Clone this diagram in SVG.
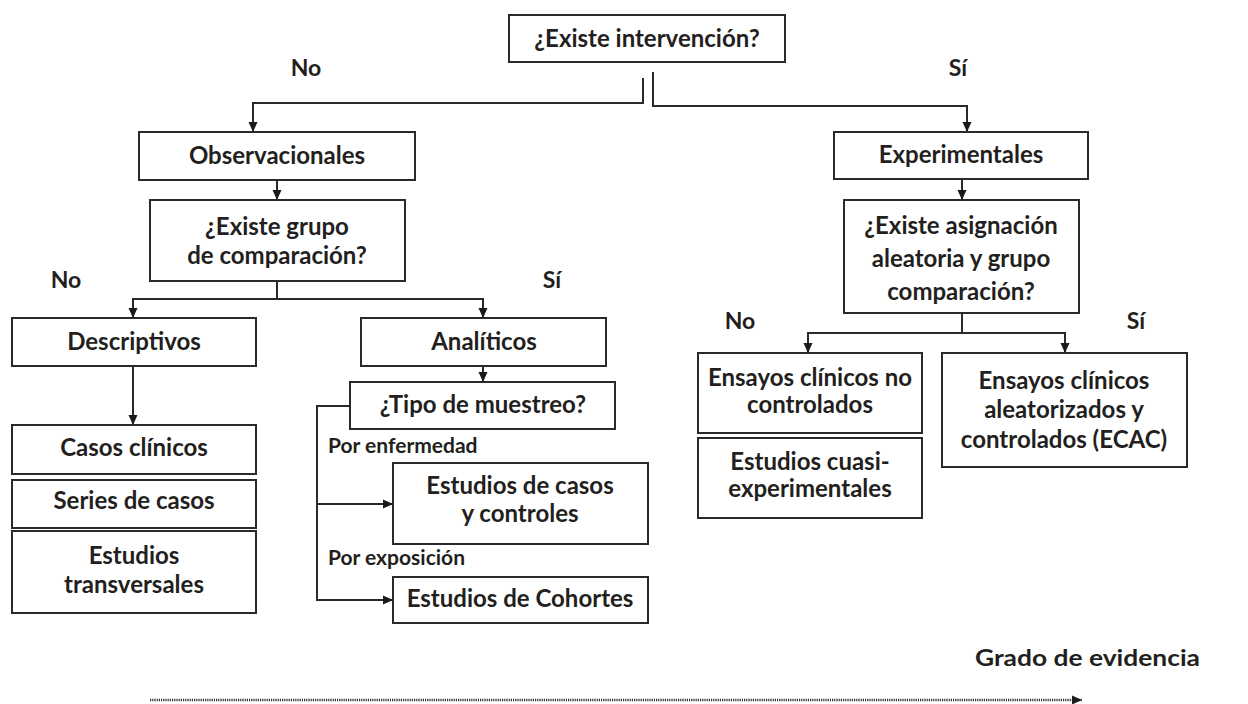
<svg xmlns="http://www.w3.org/2000/svg" width="1248" height="704" viewBox="0 0 1248 704">
<defs>
<style>
.box{fill:#fff;stroke:#2a2a2a;stroke-width:2}
.t{font-family:Lato,"Open Sans","Liberation Sans",sans-serif;font-weight:bold;font-size:24px;fill:#231f20;text-anchor:middle}
.lbl{font-family:Lato,"Open Sans","Liberation Sans",sans-serif;font-weight:bold;font-size:23px;fill:#231f20;text-anchor:middle}
.small{font-family:Lato,"Open Sans","Liberation Sans",sans-serif;font-weight:bold;font-size:21px;fill:#231f20}
.c{fill:none;stroke:#2a2a2a;stroke-width:2}
.dot{fill:none;stroke:#333;stroke-width:2.5;stroke-dasharray:1.2 1}
</style>
<marker id="ah" markerUnits="userSpaceOnUse" markerWidth="10" markerHeight="10" refX="10" refY="5" orient="auto">
<path d="M0,0.5 L10,5 L0,9.5 z" fill="#1a1a1a"/>
</marker>
</defs>
<rect width="1248" height="704" fill="#fff"/>

<g id="connectors">
<path class="c" d="M643,78 V103 H253 V132" marker-end="url(#ah)"/>
<path class="c" d="M653,72 V106 H967 V132" marker-end="url(#ah)"/>
<path class="c" d="M277,180 V200" marker-end="url(#ah)"/>
<path class="c" d="M277,281 V299 H133 V318" marker-end="url(#ah)"/>
<path class="c" d="M277,299 H483 V318" marker-end="url(#ah)"/>
<path class="c" d="M133,366 V425" marker-end="url(#ah)"/>
<path class="c" d="M483,366 V382" marker-end="url(#ah)"/>
<path class="c" d="M350,406 H317 V600 H393" marker-end="url(#ah)"/>
<path class="c" d="M317,504 H393" marker-end="url(#ah)"/>
<path class="c" d="M962,179 V200" marker-end="url(#ah)"/>
<path class="c" d="M962,313 V333 H808 V353" marker-end="url(#ah)"/>
<path class="c" d="M962,333 H1065 V353" marker-end="url(#ah)"/>
<path class="dot" d="M150,700 H1082" marker-end="url(#ah)"/>
</g>

<g id="labels">
<text class="lbl" x="306" y="76">No</text>
<text class="lbl" x="958" y="76">Sí</text>
<text class="lbl" x="66" y="288">No</text>
<text class="lbl" x="552" y="288">Sí</text>
<text class="lbl" x="740" y="329">No</text>
<text class="lbl" x="1136" y="329">Sí</text>
<text class="small" x="328" y="453">Por enfermedad</text>
<text class="small" x="328" y="565">Por exposición</text>
<text class="lbl" x="975" y="666" style="text-anchor:start" textLength="225" lengthAdjust="spacingAndGlyphs">Grado de evidencia</text>
</g>

<g id="n-intervencion">
<rect class="box" x="509" y="15" width="276" height="47"/>
<text class="t" x="647" y="47">¿Existe intervención?</text>
</g>
<g id="n-observacionales">
<rect class="box" x="139" y="132" width="276" height="48"/>
<text class="t" x="277" y="164">Observacionales</text>
</g>
<g id="n-grupo">
<rect class="box" x="150" y="200" width="255" height="81"/>
<text class="t" x="277" y="235">¿Existe grupo</text>
<text class="t" x="277" y="264">de comparación?</text>
</g>
<g id="n-descriptivos">
<rect class="box" x="12" y="318" width="244" height="48"/>
<text class="t" x="134" y="350">Descriptivos</text>
</g>
<g id="n-casos">
<rect class="box" x="12" y="425" width="244" height="49"/>
<text class="t" x="134" y="456">Casos clínicos</text>
</g>
<g id="n-series">
<rect class="box" x="12" y="480" width="244" height="48"/>
<text class="t" x="134" y="509">Series de casos</text>
</g>
<g id="n-transversales">
<rect class="box" x="12" y="531" width="244" height="82"/>
<text class="t" x="134" y="564">Estudios</text>
<text class="t" x="134" y="593">transversales</text>
</g>
<g id="n-analiticos">
<rect class="box" x="361" y="318" width="245" height="48"/>
<text class="t" x="484" y="350">Analíticos</text>
</g>
<g id="n-tipo">
<rect class="box" x="350" y="382" width="265" height="47"/>
<text class="t" x="483" y="413">¿Tipo de muestreo?</text>
</g>
<g id="n-casoscontroles">
<rect class="box" x="393" y="463" width="255" height="81"/>
<text class="t" x="520" y="494">Estudios de casos</text>
<text class="t" x="520" y="522">y controles</text>
</g>
<g id="n-cohortes">
<rect class="box" x="393" y="577" width="255" height="46"/>
<text class="t" x="520" y="607">Estudios de Cohortes</text>
</g>
<g id="n-experimentales">
<rect class="box" x="834" y="132" width="254" height="47"/>
<text class="t" x="961" y="163">Experimentales</text>
</g>
<g id="n-asignacion">
<rect class="box" x="844" y="200" width="235" height="113"/>
<text class="t" x="961" y="234">¿Existe asignación</text>
<text class="t" x="961" y="267">aleatoria y grupo</text>
<text class="t" x="961" y="300">comparación?</text>
</g>
<g id="n-noControlados">
<rect class="box" x="698" y="353" width="224" height="80"/>
<text class="t" x="810" y="386">Ensayos clínicos no</text>
<text class="t" x="810" y="413">controlados</text>
</g>
<g id="n-cuasi">
<rect class="box" x="698" y="438" width="224" height="80"/>
<text class="t" x="810" y="470">Estudios cuasi-</text>
<text class="t" x="810" y="497">experimentales</text>
</g>
<g id="n-ecac">
<rect class="box" x="942" y="353" width="245" height="114"/>
<text class="t" x="1064" y="389">Ensayos clínicos</text>
<text class="t" x="1064" y="418">aleatorizados y</text>
<text class="t" x="1064" y="448">controlados (ECAC)</text>
</g>
</svg>
